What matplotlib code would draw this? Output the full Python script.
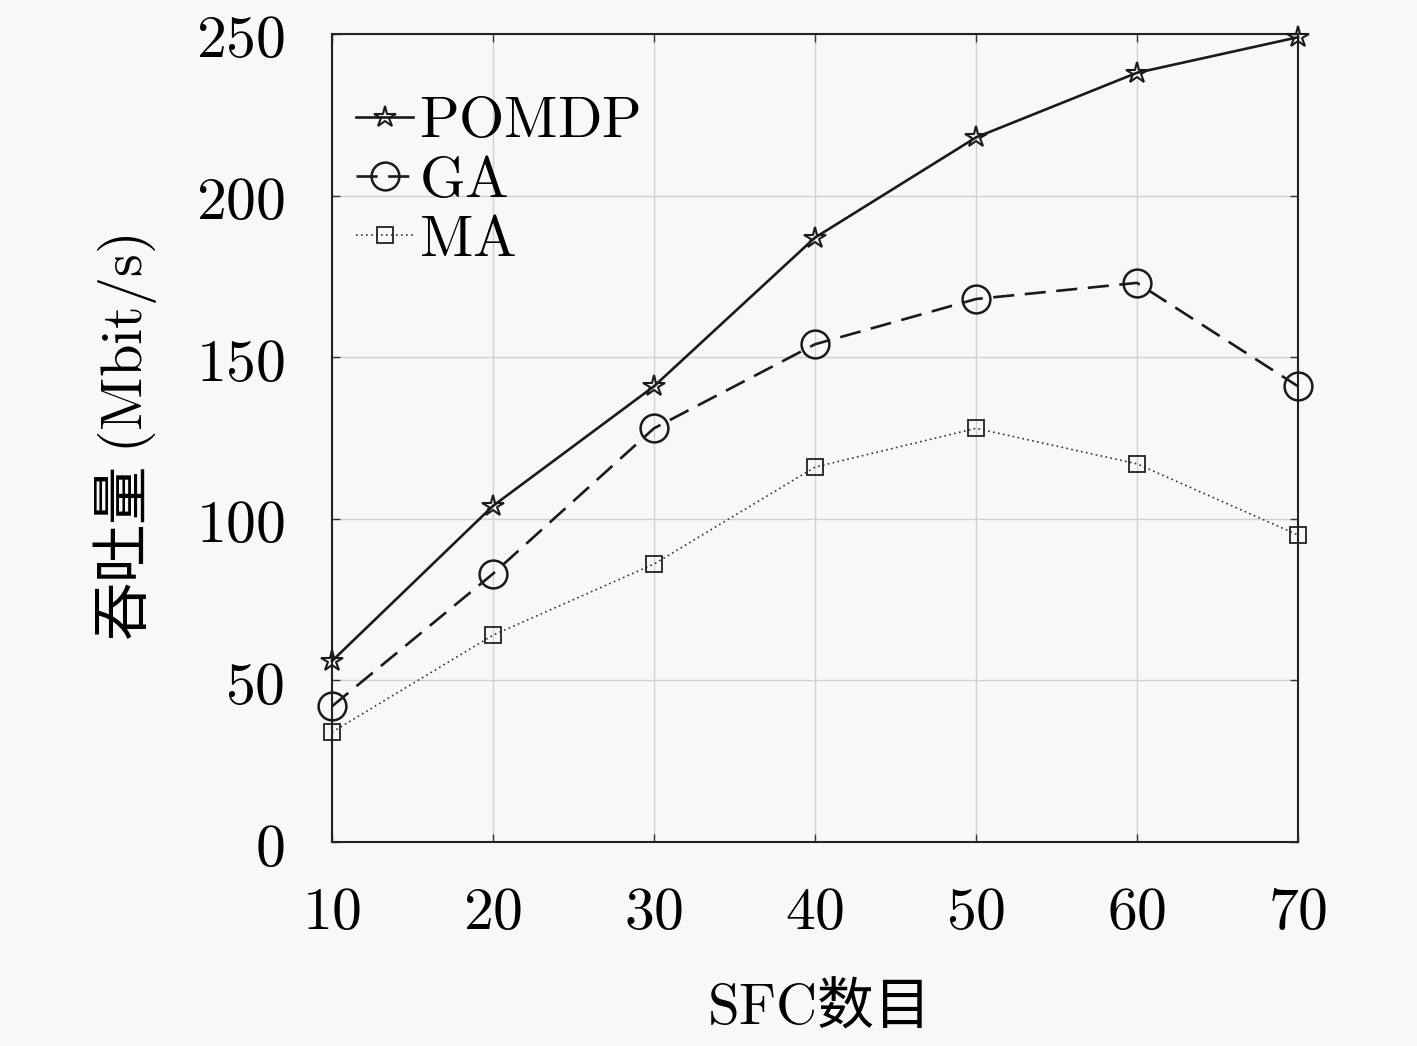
import matplotlib
matplotlib.use("Agg")
import matplotlib.pyplot as plt

plt.rcParams['mathtext.fontset'] = 'cm'
plt.rcParams['font.family'] = ['Noto Sans CJK SC', 'DejaVu Sans']

sfc = [10, 20, 30, 40, 50, 60, 70]
pomdp = [56, 104, 141, 187, 218, 238, 249]
ga = [42, 83, 128, 154, 168, 173, 141]
ma = [34, 64, 86, 116, 128, 117, 95]
xticks = [10, 20, 30, 40, 50, 60, 70]
yticks = [0, 50, 100, 150, 200, 250]

bg = '#f8f8f8'
fig = plt.figure(figsize=(14.17, 10.46), dpi=100, facecolor=bg)
ax = fig.add_axes([0.2343, 0.195, 0.6817, 0.7725], facecolor=bg)

ax.plot(sfc, pomdp, '-', color='#1a1a1a', lw=1.9, marker='*', ms=16,
        mfc='none', mec='#1a1a1a', mew=1.5, label=r'$\mathrm{POMDP}$', zorder=3, clip_on=False)
ax.plot(sfc, ga, color='#1a1a1a', lw=1.9, ls=(0, (8, 4)), marker='o', ms=20,
        mfc='none', mec='#1a1a1a', mew=1.8, label=r'$\mathrm{GA}$', zorder=3, clip_on=False)
ax.plot(sfc, ma, color='#333333', lw=1.2, ls=(0, (1, 2)), marker='s', ms=12,
        mfc='none', mec='#222222', mew=1.3, label=r'$\mathrm{MA}$', zorder=3, clip_on=False)

ax.set_xlim(10, 70)
ax.set_ylim(0, 250)
ax.set_xticks(xticks)
ax.set_yticks(yticks)
ax.set_xticklabels([r'$%d$' % v for v in xticks], fontsize=43)
ax.set_yticklabels([r'$%d$' % v for v in yticks], fontsize=43)
ax.tick_params(direction='in', length=6, width=1, color='#333333',
               top=True, right=True)
ax.tick_params(axis='x', pad=29)
ax.tick_params(axis='y', pad=34)
ax.grid(True, color='#d0d0d0', lw=1.0)
ax.set_axisbelow(True)
for s in ax.spines.values():
    s.set_color('#222222')
    s.set_linewidth(1.5)

ax.set_xlabel(r'$\mathrm{SFC}$数目', fontsize=41, labelpad=26)
ax.set_ylabel(r'吞吐量 $(\mathrm{Mbit/s})$', fontsize=42, labelpad=26)

leg = ax.legend(loc='upper left', bbox_to_anchor=(-0.008, 0.97), frameon=False,
                fontsize=42, handlelength=0.97, handletextpad=0.1,
                labelspacing=-0.03, borderaxespad=0.15)

fig.savefig('out.png', dpi=100, facecolor=bg)
